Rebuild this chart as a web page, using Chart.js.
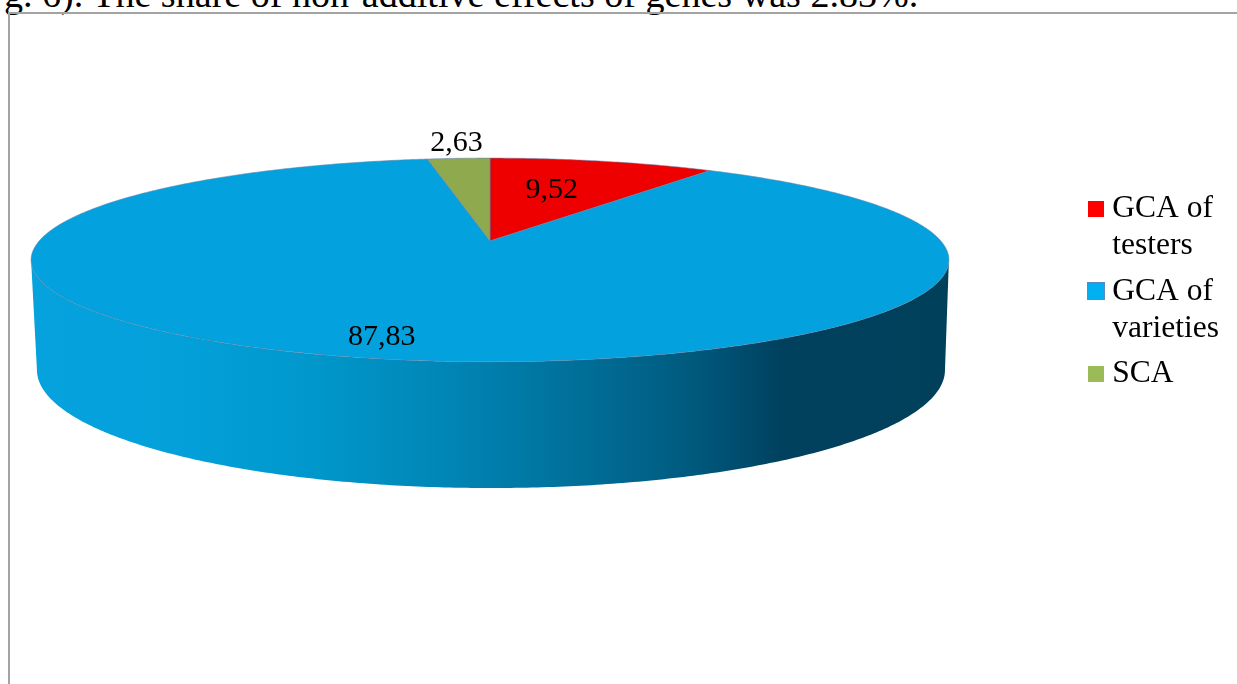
<!DOCTYPE html>
<html>
<head>
<meta charset="utf-8">
<title>Share of gene effects</title>
<script src="https://cdn.jsdelivr.net/npm/chart.js@4/dist/chart.umd.min.js"></script>
<style>
    body { margin: 0; background: #fff; overflow: hidden; }
    #page { position: relative; width: 1237px; height: 684px; overflow: hidden; }
    #line { position: absolute; left: 4px; top: -28px; margin: 0; white-space: nowrap;
            font: 38.1px "Liberation Serif", serif; color: #000; }
    #frame { position: absolute; left: 8px; top: 12px; right: -4px; bottom: -4px;
             border: 2px solid #a3a3a3; }
    canvas { position: absolute; left: 0; top: 0; }
</style>
</head>
<body>
<div id="page">
    <p id="line">g. 6). The share of non-additive effects of genes was 2.83%.</p>
    <div id="frame"></div>
    <canvas id="pie" width="1237" height="684"></canvas>
</div>
<script>
// Chart data
const categories = [['GCA of', 'testers'], ['GCA of', 'varieties'], 'SCA'];
const shares = [9.52, 87.83, 2.63];

// Colours
const sliceColors = ['#ee0000', '#03a2de', '#8fa94f'];
const legendColors = ['#ff0000', '#00b0f0', '#9bbb59'];
const legendEdges = ['#ff0000', '#5b8ac0', '#9bbb59'];
const wallStops = [
    [0, '#06a2de'], [0.15, '#03a0da'], [0.3, '#0098cc'], [0.45, '#0086b6'],
    [0.6, '#006f98'], [0.72, '#005a7e'], [0.82, '#00415f'], [1, '#00405a']
];

// Text nudges from the rim point at the middle of each slice
const labelNudges = [[-51, 29], [10, -21], [-2, -15]];

// Tilted disc: top face and bottom face, in units of the pie radius
const PERSPECTIVE = 0.186;
const topFace = { shiftX: 0, shiftY: 0, spreadX: 1.871, spreadY: 0.408 };
const bottomFace = { shiftX: 0.004, shiftY: 0.444, spreadX: 1.851, spreadY: 0.473 };

// Map a pie angle (as stored on the arc element) onto a face of the disc
function project(arc, angle, face, radiusFactor) {
    const theta = angle + Math.PI / 2;
    const s = Math.sin(theta) * radiusFactor;
    const v = Math.cos(theta) * radiusFactor;
    const w = 1 + PERSPECTIVE * v;
    const r = arc.outerRadius;
    return {
        x: arc.x + r * (face.shiftX + face.spreadX * s / w),
        y: arc.y + r * (face.shiftY - face.spreadY * v / w)
    };
}

function rimPoints(arc, from, to, face) {
    const steps = Math.max(2, Math.ceil((to - from) / 0.01));
    const points = [];
    for (let i = 0; i <= steps; i++) {
        points.push(project(arc, from + (to - from) * i / steps, face, 1));
    }
    return points;
}

function tracePath(ctx, points) {
    points.forEach(function(p, i) {
        if (i === 0) ctx.moveTo(p.x, p.y);
        else ctx.lineTo(p.x, p.y);
    });
}

function drawWall(ctx, arc) {
    // The visible wall runs between the two widest points of the top face
    const edge = Math.acos(-PERSPECTIVE) - Math.PI / 2;
    const from = Math.max(arc.startAngle, edge);
    const to = Math.min(arc.endAngle, Math.PI - edge);
    if (to <= from) return;

    const top = rimPoints(arc, from, to, topFace);
    const bottom = rimPoints(arc, from, to, bottomFace).reverse();
    const xs = bottom.map(function(p) { return p.x; });
    const gradient = ctx.createLinearGradient(Math.min.apply(null, xs), 0, Math.max.apply(null, xs), 0);
    wallStops.forEach(function(stop) {
        gradient.addColorStop(stop[0], stop[1]);
    });

    ctx.beginPath();
    tracePath(ctx, top.concat(bottom));
    ctx.closePath();
    ctx.fillStyle = gradient;
    ctx.fill();
}

function drawFace(ctx, arc, color) {
    const apex = project(arc, 0, topFace, 0);
    ctx.beginPath();
    tracePath(ctx, [apex].concat(rimPoints(arc, arc.startAngle, arc.endAngle, topFace)));
    ctx.closePath();
    ctx.fillStyle = color;
    ctx.fill();
    ctx.lineWidth = 1;
    ctx.strokeStyle = 'rgba(100, 130, 170, 0.55)';
    ctx.stroke();
}

function legendSwatch(color, edge) {
    const swatch = document.createElement('canvas');
    const size = color === edge ? 16 : 18;
    swatch.width = size;
    swatch.height = size;
    const c = swatch.getContext('2d');
    c.fillStyle = edge;
    c.fillRect(0, 0, size, size);
    c.fillStyle = color;
    c.fillRect(1, 1, size - 2, size - 2);
    return swatch;
}

// Draws the pie as a tilted disc, replacing the flat arcs
const tiltedPie = {
    id: 'tiltedPie',
    beforeDatasetsDraw: function(chart) {
        const ctx = chart.ctx;
        const arcs = chart.getDatasetMeta(0).data;

        ctx.save();
        arcs.forEach(function(arc) {
            drawWall(ctx, arc);
        });
        arcs.forEach(function(arc, i) {
            drawFace(ctx, arc, sliceColors[i]);
        });

        // Value labels
        ctx.fillStyle = '#000';
        ctx.font = '30px "Liberation Serif"';
        ctx.textAlign = 'center';
        ctx.textBaseline = 'middle';
        arcs.forEach(function(arc, i) {
            const mid = (arc.startAngle + arc.endAngle) / 2;
            const rim = project(arc, mid, topFace, 1);
            const text = String(shares[i]).replace('.', ',');
            ctx.fillText(text, rim.x + labelNudges[i][0], rim.y + labelNudges[i][1]);
        });
        ctx.restore();
        return false;
    },
    beforeDraw: function(chart) {
        // Legend sits in the right margin beside the disc
        const legend = chart.legend;
        legend.left = 1086.5;
        legend.right = 1237;
        legend.top = 184;
        legend.bottom = 420;
    }
};

document.addEventListener('DOMContentLoaded', function() {
    new Chart(document.getElementById('pie').getContext('2d'), {
        type: 'pie',
        data: {
            labels: categories,
            datasets: [{
                data: shares,
                backgroundColor: sliceColors,
                borderWidth: 0
            }]
        },
        options: {
            responsive: false,
            animation: false,
            layout: { padding: { left: 0, right: 257, top: 0, bottom: 202 } },
            plugins: {
                tooltip: { enabled: false },
                legend: {
                    position: 'chartArea',
                    align: 'start',
                    labels: {
                        color: '#000',
                        font: { family: '"Liberation Serif"', size: 31.5, lineHeight: 1.17 },
                        usePointStyle: true,
                        pointStyleWidth: 1,
                        boxHeight: 16,
                        padding: 9,
                        generateLabels: function() {
                            return categories.map(function(name, i) {
                                return {
                                    text: name,
                                    fillStyle: legendColors[i],
                                    strokeStyle: legendEdges[i],
                                    lineWidth: 0,
                                    pointStyle: legendSwatch(legendColors[i], legendEdges[i]),
                                    index: i
                                };
                            });
                        }
                    }
                }
            }
        },
        plugins: [tiltedPie]
    });
});
</script>
</body>
</html>
